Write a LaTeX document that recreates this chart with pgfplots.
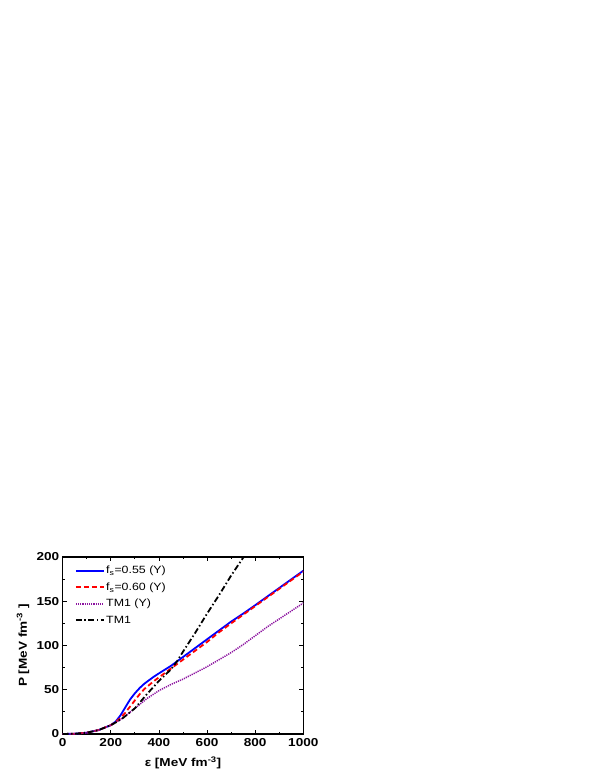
\documentclass[border=0pt]{standalone}
\usepackage{fontspec}
\setmainfont{Liberation Sans}[FakeStretch=1.18]
\usepackage{pgfplots}
\pgfplotsset{compat=1.18}
\definecolor{mypurple}{RGB}{140,20,160}
\begin{document}
\begin{tikzpicture}[x=1pt,y=1pt]
\useasboundingbox (0,0) rectangle (599,776);
\begin{axis}[
  at={(62.7pt,42pt)}, anchor=south west,
  scale only axis, width=240.6pt, height=177pt,
  xmin=0, xmax=1000, ymin=0, ymax=200,
  xtick={0,200,...,1000}, ytick={0,50,...,200},
  minor x tick num=1, minor y tick num=1,
  tick align=inside, major tick length=4pt, minor tick length=2.5pt,
  axis line style={line width=1.2pt}, every tick/.style={line width=0.8pt, black},
  /pgf/number format/assume math mode=true,
  /pgf/number format/1000 sep={},
  ticklabel style={font=\fontsize{11.5}{13}\selectfont\bfseries},
  xticklabel style={yshift=-1pt},
  scaled ticks=false,
  xlabel={\bfseries ε [MeV fm\textsuperscript{-3}]},
  ylabel={\bfseries P [MeV fm\textsuperscript{-3} ]},
  label style={font=\fontsize{11.5}{13}\selectfont},
  xlabel style={at={(axis description cs:0.5,-0.164)}, anchor=center},
  ylabel style={at={(axis description cs:-0.165,0.5)}, anchor=center},
  legend cell align=left,
  legend style={draw=none, fill=none, at={(0.05,0.955)}, anchor=north west,
    font=\fontsize{10.5}{12}\selectfont, inner sep=0pt, row sep=5.5pt,
    nodes={inner xsep=1.5pt, inner ysep=1pt}},
  legend image code/.code={\draw[#1] (0pt,0pt) -- (28pt,0pt);},
]
\addplot[blue, line width=1.8pt] coordinates {
(0,0) (50,0.3) (100,1.5) (150,4.5) (200,10) (220,14) (240,21) (260,30) (280,39) (300,46)
(320,52) (340,57) (360,61) (380,65) (400,68.5) (450,77) (500,87) (550,97) (600,107)
(650,117) (700,127) (750,136) (800,145.5) (900,165) (1000,184.5)};
\addlegendentry{f\textsubscript{s}=0.55 (Y)}
\addplot[red, line width=1.8pt, dash pattern=on 5pt off 3pt] coordinates {
(0,0) (50,0.3) (100,1.5) (150,4.5) (200,10) (220,13.5) (240,18) (260,24) (280,31) (300,38)
(320,45) (340,51) (360,55.5) (380,60) (400,64) (450,74) (500,84) (550,94) (600,104)
(650,115) (700,125) (800,144.5) (900,164) (1000,183.5)};
\addlegendentry{f\textsubscript{s}=0.60 (Y)}
\addplot[mypurple, line width=1.5pt, dash pattern=on 1.2pt off 1pt] coordinates {
(0,0) (50,0.3) (100,1.5) (150,4.5) (200,10) (220,13) (250,18) (300,29) (350,40) (400,49)
(450,56) (500,62) (550,69) (600,76) (650,84) (700,92) (750,101) (800,111) (850,121)
(900,130) (950,139) (1000,148)};
\addlegendentry{TM1 (Y)}
\addplot[black, line width=1.8pt, dash pattern=on 6pt off 2.5pt on 1.5pt off 2.5pt] coordinates {
(0,0) (50,0.3) (100,1.5) (150,4.5) (200,10) (220,13) (250,18) (300,29) (350,45) (400,60)
(450,73) (475,82) (500,93) (550,114) (600,136) (650,157) (700,179) (752,200)};
\addlegendentry{TM1}
\end{axis}
\end{tikzpicture}
\end{document}
